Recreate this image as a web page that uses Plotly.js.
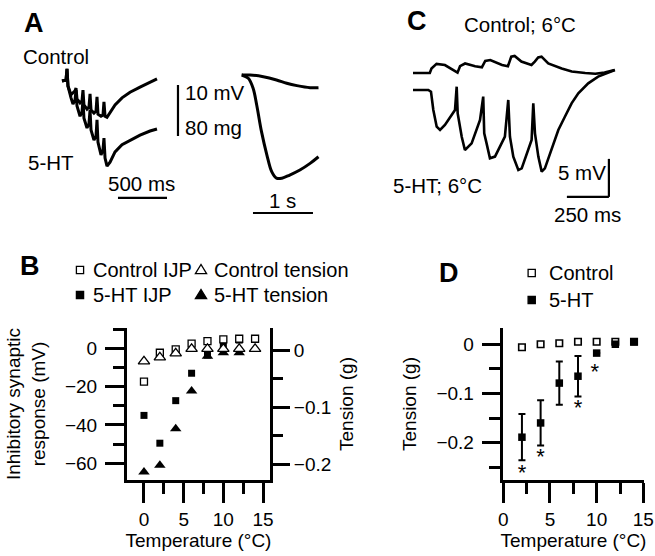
<!DOCTYPE html>
<html>
<head>
<meta charset="utf-8">
<script src="https://cdn.plot.ly/plotly-3.0.1.min.js"></script>
<style>html,body{margin:0;padding:0;background:#fff;}#chart{width:655px;height:556px;}</style>
</head>
<body>
<div id="chart"></div>
<script>
// ---------- Panel A (left): IJP traces, time in ms, potential in mV ----------
const aTime = [0,41,51,61,92,112,133,143,153,184,204,214,224,255,275,286,296,326,347,357,367,398,418,428,439,459,490,541,612,694,796,898,969];
const aControlMV = [0,0.2,2.4,-1.0,-2.7,-2.4,-1.9,-1.4,-3.5,-4.3,-3.9,-1.8,-4.7,-5.5,-5.1,-2.5,-5.7,-6.3,-5.9,-3.1,-6.5,-6.9,-6.7,-4.1,-6.9,-7.1,-6.1,-4.7,-3.3,-2.2,-1.2,-0.2,0.4];
const aHtMV = [0,0.2,2.4,-1.0,-3.3,-4.5,-3.7,-1.8,-4.9,-6.9,-6.1,-3.7,-7.3,-9.2,-8.4,-5.7,-9.6,-11.6,-10.8,-7.6,-12.0,-14.5,-13.5,-11.2,-15.1,-16.7,-15.9,-13.9,-12.5,-11.6,-10.6,-9.8,-9.4];

// ---------- Panel A (right): tension traces, time in s, tension in mg ----------
const tenTimeCtrl = [0,0.14,0.36,0.58,0.75,0.92,1.14,1.28];
const tenCtrl = [0,0,-2.7,-7.8,-13,-16.7,-19.9,-19.9];
const tenTimeHt = [0,0.11,0.19,0.25,0.33,0.42,0.5,0.58,0.67,0.8,0.97,1.14,1.28];
const tenHt = [0,-5.2,-20.9,-47,-88.9,-125.5,-151.6,-161.9,-161.9,-156.9,-149,-138.6,-128.2];

// ---------- Panel C: IJP traces at 6 °C, time in ms, potential in mV ----------
const cTimeCtrl = [0,100,110,140,190,250,265,280,310,370,410,430,460,530,565,585,605,645,705,725,745,765,805,885,945,1025,1085,1140,1200];
const cCtrlMV = [0,0,0.6,1.2,1.05,0.2,0.05,0.9,1.25,0.9,0.75,1.6,1.7,1.05,0.9,2.15,2.25,1.5,1.05,1.5,2.05,2.15,1.25,0.6,0.2,0,-0.1,0.05,0.4];
const cTimeHt = [0,91,107,121,141,161,190,250,260,266,290,309,349,399,418,424,438,458,488,547,567,577,597,627,647,706,716,726,746,766,785,825,865,904,944,984,1043,1102,1162,1202];
const cHtMV = [-2.24,-2.24,-2.46,-4.87,-7.06,-7.5,-6.84,-4.87,-1.8,-5.31,-8.38,-10.13,-9.26,-6.19,-3.11,-7.94,-9.26,-11.23,-11.0,-8.38,-3.55,-8.38,-11.0,-12.77,-12.55,-8.82,-3.99,-7.94,-11.0,-12.98,-12.55,-10.13,-7.5,-5.75,-3.99,-2.68,-1.36,-0.48,0.04,0.39];

// ---------- Panel B: temperature dependence ----------
const bTemps = [0,2,4,6,8,10,12,14];
const bControlIJP = [-17.4,-2.3,-0.5,2.4,3.8,4.7,5,5];
const bHtIJP = [-35,-49.5,-27.3,-13,-3.5,2,4.3,4.7];
const bControlTension = [-0.020,-0.013,-0.006,0.002,0.002,0.002,0.002,0.002];
const bHtTension = [-0.214,-0.202,-0.138,-0.072,-0.011,-0.005,-0.005,0.001];

// ---------- Panel D: tension vs temperature ----------
const dTemps = [2,4,6,8,10,12,14];
const dControl = [-0.006,0,0.002,0.005,0.005,0.005,0.005];
const dHt = [-0.189,-0.160,-0.079,-0.065,-0.018,0,0.005];
const dHtErr = [0.047,0.046,0.044,0.041,0,0,0];
const dStarX = [2,4,8,9.8];
const dStarY = [-0.264,-0.233,-0.133,-0.060];

const FONT = 'Liberation Sans, Arial, Helvetica, sans-serif';
const W = 655, H = 556;
const fx = p => p / W;
const fy = p => 1 - p / H;

const lineStyle = {color:'black', width:3};
const traces = [
  {x:aTime, y:aControlMV, xaxis:'x', yaxis:'y', mode:'lines', line:lineStyle, hoverinfo:'skip'},
  {x:aTime, y:aHtMV, xaxis:'x', yaxis:'y', mode:'lines', line:lineStyle, hoverinfo:'skip'},
  {x:tenTimeCtrl, y:tenCtrl, xaxis:'x2', yaxis:'y2', mode:'lines', line:{color:'black', width:3, shape:'spline'}, hoverinfo:'skip'},
  {x:tenTimeHt, y:tenHt, xaxis:'x2', yaxis:'y2', mode:'lines', line:{color:'black', width:3, shape:'spline'}, hoverinfo:'skip'},
  {x:cTimeCtrl, y:cCtrlMV, xaxis:'x3', yaxis:'y3', mode:'lines', line:{color:'black', width:2.6}, hoverinfo:'skip'},
  {x:cTimeHt, y:cHtMV, xaxis:'x3', yaxis:'y3', mode:'lines', line:{color:'black', width:2.6}, hoverinfo:'skip'},
  // Panel B
  {x:bTemps, y:bHtTension, xaxis:'x4', yaxis:'y5', mode:'markers', marker:{symbol:'triangle-up', size:10, color:'black'}, cliponaxis:false, hoverinfo:'skip'},
  {x:bTemps, y:bControlTension, xaxis:'x4', yaxis:'y5', mode:'markers', marker:{symbol:'triangle-up', size:10, color:'white', line:{color:'black', width:1.3}}, cliponaxis:false, hoverinfo:'skip'},
  {x:bTemps, y:bHtIJP, xaxis:'x4', yaxis:'y4', mode:'markers', marker:{symbol:'square', size:7, color:'black'}, cliponaxis:false, hoverinfo:'skip'},
  {x:bTemps, y:bControlIJP, xaxis:'x4', yaxis:'y4', mode:'markers', marker:{symbol:'square', size:7, color:'white', line:{color:'black', width:1.3}}, cliponaxis:false, hoverinfo:'skip'},
  // Panel D
  {x:dTemps, y:dControl, xaxis:'x6', yaxis:'y6', mode:'markers', marker:{symbol:'square', size:6.5, color:'white', line:{color:'black', width:1.6}}, cliponaxis:false, hoverinfo:'skip'},
  {x:dTemps, y:dHt, xaxis:'x6', yaxis:'y6', mode:'markers', marker:{symbol:'square', size:7.5, color:'black'},
   error_y:{type:'data', array:dHtErr, visible:true, color:'black', thickness:2, width:3.5}, cliponaxis:false, hoverinfo:'skip'},
  {x:dStarX, y:dStarY, xaxis:'x6', yaxis:'y6', mode:'text', text:dStarX.map(()=>'*'), textfont:{family:FONT, size:22, color:'black'}, textposition:'middle center', cliponaxis:false, hoverinfo:'skip'}
];

const hidden = {visible:false, fixedrange:true};
const axBase = {showline:true, linewidth:3, linecolor:'black', ticks:'outside', tickwidth:3, tickcolor:'black',
  showgrid:false, zeroline:false, tickfont:{family:FONT, size:19, color:'black'}, fixedrange:true};

const layout = {
  width:W, height:H, margin:{l:0,r:0,t:0,b:0}, paper_bgcolor:'white', plot_bgcolor:'rgba(0,0,0,0)',
  showlegend:false, font:{family:FONT, color:'black'},
  xaxis: Object.assign({}, hidden, {domain:[fx(55), fx(180)], range:[(55-62)*10.2, (180-62)*10.2], anchor:'y'}),
  yaxis: Object.assign({}, hidden, {domain:[fy(205), fy(60)], range:[-(205-81)*0.196, (81-60)*0.196], anchor:'x'}),
  xaxis2: Object.assign({}, hidden, {domain:[fx(235), fx(320)], range:[(235-241.7)/60, (320-241.7)/60], anchor:'y2'}),
  yaxis2: Object.assign({}, hidden, {domain:[fy(215), fy(65)], range:[-(215-75)*80/51, (75-65)*80/51], anchor:'x2'}),
  xaxis3: Object.assign({}, hidden, {domain:[fx(405), fx(625)], range:[(405-413)*250/42, (625-413)*250/42], anchor:'y3'}),
  yaxis3: Object.assign({}, hidden, {domain:[fy(205), fy(50)], range:[-(205-73)*5/38, (73-50)*5/38], anchor:'x3'}),
  xaxis4: Object.assign({}, axBase, {domain:[fx(127), fx(270)], range:[-2.14, 15.88], anchor:'y4', tick0:0, dtick:5, ticklen:20,
    minor:{dtick:2.5, tick0:0, ticks:'outside', ticklen:11, tickwidth:3, tickcolor:'black'},
    title:{text:'Temperature (°C)', font:{family:FONT, size:19}, standoff:5}}),
  yaxis4: Object.assign({}, axBase, {domain:[fy(480), fy(328)], range:[-68.7, 10.6], anchor:'x4', tick0:0, dtick:20, ticklen:19,
    ticklabelstandoff:4,
    minor:{dtick:10, tick0:0, ticks:'outside', ticklen:11, tickwidth:3, tickcolor:'black'},
    title:{text:'Inhibitory synaptic<br>response (mV)', font:{family:FONT, size:19}, standoff:15}}),
  yaxis5: Object.assign({}, axBase, {overlaying:'y4', side:'right', anchor:'x4', range:[-0.228, 0.0386], tick0:0, dtick:0.1, ticklen:17,
    minor:{dtick:0.05, tick0:0, ticks:'outside', ticklen:10, tickwidth:3, tickcolor:'black'},
    title:{text:'Tension (g)', font:{family:FONT, size:19}, standoff:10}}),
  xaxis6: Object.assign({}, axBase, {domain:[fx(502.7), fx(644.3)], range:[-0.06, 15.1], anchor:'y6', tick0:0, dtick:5, ticklen:20,
    minor:{dtick:2.5, tick0:0, ticks:'outside', ticklen:11, tickwidth:3, tickcolor:'black'},
    title:{text:'Temperature (°C)', font:{family:FONT, size:19}, standoff:5}}),
  yaxis6: Object.assign({}, axBase, {domain:[fy(480), fy(328)], range:[-0.276, 0.033], anchor:'x6', tick0:0, dtick:0.1, ticklen:18,
    ticklabelstandoff:4,
    minor:{dtick:0.05, tick0:0, ticks:'outside', ticklen:11, tickwidth:3, tickcolor:'black'},
    title:{text:'Tension (g)', font:{family:FONT, size:19}, standoff:15}}),
  shapes: [],
  annotations: []
};

// scale bars (in data units of each trace panel)
const bar = (xref, yref, x0, y0, x1, y1) => ({type:'line', xref, yref, x0, y0, x1, y1, line:{color:'black', width:2.2}});
layout.shapes.push(bar('x','y', 571, -22.9, 1071, -22.9));          // 500 ms
layout.shapes.push(bar('x','y', 1183, -0.78, 1183, -10.78));        // 10 mV / 80 mg
layout.shapes.push(bar('x2','y2', 0.188, -216.5, 1.188, -216.5));    // 1 s
layout.shapes.push(bar('x3','y3', 1166, -11.3, 1166, -16.3));        // 5 mV
layout.shapes.push(bar('x3','y3', 916, -16.3, 1166, -16.3));         // 250 ms

// legend keys (paper coords from pixel positions)
const sqKey = (cx, cy, filled) => ({type:'rect', xref:'paper', yref:'paper', x0:fx(cx-3.6), x1:fx(cx+3.6), y0:fy(cy+3.6), y1:fy(cy-3.6),
  fillcolor: filled ? 'black' : 'white', line:{color:'black', width:1.3}});
const triKey = (cx, cy, filled) => ({type:'path', xref:'paper', yref:'paper',
  path:`M ${fx(cx-5.6)} ${fy(cy+3.6)} L ${fx(cx+5.6)} ${fy(cy+3.6)} L ${fx(cx)} ${fy(cy-5.6)} Z`,
  fillcolor: filled ? 'black' : 'white', line:{color:'black', width:1.3}});
layout.shapes.push(sqKey(80, 270, false), sqKey(80, 295, true), triKey(201, 270, false), triKey(201, 295, true));
layout.shapes.push(sqKey(531.7, 273, false), sqKey(531.7, 300, true));

const txt = (text, x, y, opts={}) => Object.assign({text, xref:'paper', yref:'paper', x:fx(x), y:fy(y), showarrow:false,
  xanchor:'center', yanchor:'middle', font:{family:FONT, size:20.5, color:'black'}}, opts);
const legFont = {family:FONT, size:20, color:'black'};
layout.annotations.push(
  txt('<b>A</b>', 34, 23, {font:{family:FONT, size:27, color:'black'}}),
  txt('<b>B</b>', 30, 266, {font:{family:FONT, size:27, color:'black'}}),
  txt('<b>C</b>', 417, 21, {font:{family:FONT, size:27, color:'black'}}),
  txt('<b>D</b>', 449, 273, {font:{family:FONT, size:27, color:'black'}}),
  txt('Control', 56, 56),
  txt('5-HT', 51, 163),
  txt('500 ms', 141, 184),
  txt('10 mV', 183, 93, {xanchor:'left'}),
  txt('80 mg', 183, 127, {xanchor:'left'}),
  txt('1 s', 282, 200),
  txt('Control; 6°C', 520, 25),
  txt('5-HT; 6°C', 437, 186),
  txt('5 mV', 582, 172),
  txt('250 ms', 587, 214),
  txt('Control IJP', 91, 270, {xanchor:'left', font:legFont}),
  txt('5-HT IJP', 91, 295, {xanchor:'left', font:legFont}),
  txt('Control tension', 212, 270, {xanchor:'left', font:legFont}),
  txt('5-HT tension', 212, 295, {xanchor:'left', font:legFont}),
  txt('Control', 547, 273, {xanchor:'left', font:legFont}),
  txt('5-HT', 547, 300, {xanchor:'left', font:legFont})
);

Plotly.newPlot('chart', traces, layout, {displayModeBar:false, staticPlot:true});
</script>
</body>
</html>
